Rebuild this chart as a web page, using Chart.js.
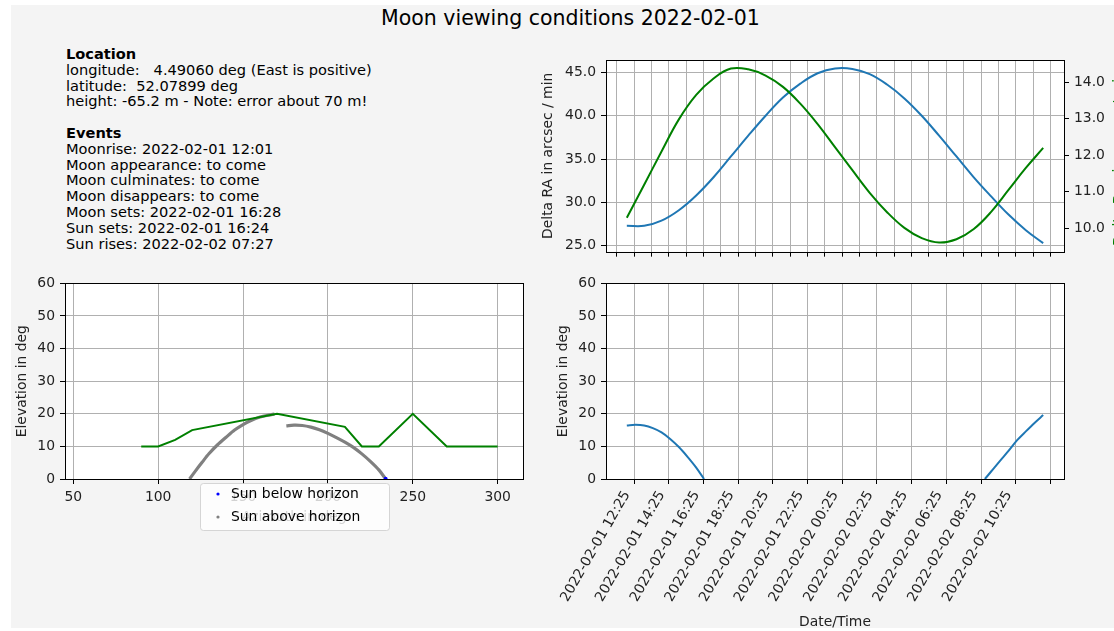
<!DOCTYPE html>
<html>
<head>
<meta charset="utf-8">
<script src="https://cdn.jsdelivr.net/npm/chart.js@4/dist/chart.umd.min.js"></script>
<style>
  html, body { margin: 0; padding: 0; background: #fff; overflow: hidden; width: 1114px; height: 631px; }
  #fig { position: absolute; left: 11px; top: 5px; width: 1103px; height: 623px; background: #f4f4f4; }
  canvas { position: absolute; }
  #title { position: absolute; left: 0; top: 6px; width: 1141px; text-align: center;
           font: 20.5px/24px "DejaVu Sans", sans-serif; color: #000; }
  #info { position: absolute; left: 66px; top: 46px; font: 14.6px/15.8px "DejaVu Sans", sans-serif;
          white-space: pre; color: #000; }
  #rightLabel { position: absolute; left: 1030px; top: 150px; width: 176px; height: 16px;
                font: 14px/16px "DejaVu Sans", sans-serif; color: green; text-align: center;
                white-space: nowrap; transform: rotate(-90deg); }
</style>
</head>
<body>
<div id="fig"></div>
<div id="title">Moon viewing conditions 2022-02-01</div>
<div id="info"><b>Location</b>
longitude:   4.49060 deg (East is positive)
latitude:  52.07899 deg
height: -65.2 m - Note: error about 70 m!

<b>Events</b>
Moonrise: 2022-02-01 12:01
Moon appearance: to come
Moon culminates: to come
Moon disappears: to come
Moon sets: 2022-02-01 16:28
Sun sets: 2022-02-01 16:24
Sun rises: 2022-02-02 07:27</div>
<canvas id="rates" width="600" height="225" style="left:530px;top:40px"></canvas>
<canvas id="horizon" width="529" height="270" style="left:11px;top:270px"></canvas>
<canvas id="elevation" width="600" height="361" style="left:530px;top:270px"></canvas>
<div id="rightLabel">Delta Dec in arcsec / min</div>
<script>
// time axis: hours since 2022-02-01 00:00
const hours = [12, 13, 14, 15, 16, 17, 18, 19, 20, 21, 22, 23, 24,
               25, 26, 27, 28, 29, 30, 31, 32, 33, 34, 35, 36];
const deltaRA = [27.3, 27.3, 27.9, 29.1, 30.8, 32.9, 35.3, 37.7, 40.0, 42.1, 43.7, 44.9, 45.45,
                 45.4, 44.8, 43.6, 42.0, 40.0, 37.7, 35.3, 32.9, 30.7, 28.6, 26.8, 25.3];
const deltaDec = [10.29, 11.19, 12.10, 12.98, 13.65, 14.10, 14.37, 14.35, 14.18, 13.87, 13.41, 12.85, 12.22,
                  11.59, 10.97, 10.44, 10.01, 9.73, 9.61, 9.70, 9.98, 10.45, 11.05, 11.65, 12.2];

const moonTime = [12, 12.5, 13, 13.5, 14, 14.5, 15, 15.5, 16, 16.45, 24,
                  32.64, 33, 33.5, 34, 34.5, 35, 35.5, 36];
const moonElev = [16.4, 16.6, 16.4, 15.6, 14.3, 12.3, 9.8, 6.8, 3.5, 0, null,
                  0, 2.3, 5.5, 8.6, 11.9, 14.6, 17.2, 19.6];

const timeLabels = ['2022-02-01 12:25', '2022-02-01 14:25', '2022-02-01 16:25', '2022-02-01 18:25',
                    '2022-02-01 20:25', '2022-02-01 22:25', '2022-02-02 00:25', '2022-02-02 02:25',
                    '2022-02-02 04:25', '2022-02-02 06:25', '2022-02-02 08:25', '2022-02-02 10:25'];

// azimuth / elevation panel
const horizonAz = [90, 100, 110, 120, 170, 210, 220, 230, 250, 270, 300];
const horizonEl = [10, 10, 12, 15, 20, 16, 10, 10, 20, 10, 10];
const sunUpAz = [118.5, 122, 126, 130, 135, 140, 145, 150, 155, 160, 165, 168.5, null,
                 175.5, 180, 185, 190, 195, 200, 205, 210, 215, 220, 225, 230, 233.5];
const sunUpEl = [0, 2.5, 5.2, 7.8, 10.5, 12.8, 15, 16.7, 18, 19, 19.6, 19.9, null,
                 16.3, 16.5, 16.4, 15.9, 15.1, 14.0, 12.7, 11.3, 9.7, 7.7, 5.4, 2.8, 0.4];
const sunDownAz = [234];
const sunDownEl = [0.1];

const azTicks = [50, 100, 150, 200, 250, 300];
const elevTicks = [0, 10, 20, 30, 40, 50, 60];
const raTicks = [25, 30, 35, 40, 45];
const decTicks = [10, 11, 12, 13, 14];

function toHours(label) {
  const day = parseInt(label.slice(8, 10), 10) - 1;
  const hh = parseInt(label.slice(11, 13), 10);
  const mm = parseInt(label.slice(14, 16), 10);
  return day * 24 + hh + mm / 60;
}
const firstTick = toHours(timeLabels[0]);
const labelTicks = [];
for (let i = 0; i <= timeLabels.length; i++) labelTicks.push(firstTick + 2 * i);
const hourTicks = [];
for (let i = -1; i <= 24; i++) hourTicks.push(firstTick + i);

const pts = (xs, ys) => xs.map((x, i) => ({ x: x === null ? 24 : x, y: ys[i] }));
const fixedTicks = values => scale => { scale.ticks = values.map(v => ({ value: v })); };

Chart.defaults.font.family = '"DejaVu Sans", sans-serif';
Chart.defaults.font.size = 13.9;
Chart.defaults.color = '#222';
Chart.defaults.animation = false;
Chart.defaults.responsive = false;
Chart.defaults.devicePixelRatio = 1;
Chart.defaults.plugins.legend.display = false;
Chart.defaults.plugins.tooltip.enabled = false;

const GRID = '#b0b0b0';

const frameBox = {
  id: 'frameBox',
  beforeDraw(chart) {
    const { ctx, chartArea: a } = chart;
    ctx.save();
    ctx.fillStyle = '#fff';
    ctx.fillRect(a.left, a.top, a.right - a.left, a.bottom - a.top);
    ctx.restore();
  },
  afterDatasetsDraw(chart) {
    const { ctx, chartArea: a } = chart;
    ctx.save();
    ctx.strokeStyle = '#000';
    ctx.lineWidth = 1;
    ctx.strokeRect(Math.round(a.left) + 0.5, Math.round(a.top) + 0.5,
                   Math.round(a.right - a.left), Math.round(a.bottom - a.top));
    ctx.restore();
  }
};

function gridOpts(onArea) {
  return { color: GRID, lineWidth: 1, tickColor: '#000', tickLength: 5, tickWidth: 1,
           drawOnChartArea: onArea !== false };
}

// top right: rates
new Chart(document.getElementById('rates'), {
  type: 'line',
  data: {
    datasets: [
      { data: pts(hours, deltaDec), yAxisID: 'y2', borderColor: 'green', borderWidth: 2,
        pointRadius: 0, tension: 0.4 },
      { data: pts(hours, deltaRA), yAxisID: 'y', borderColor: '#1f77b4', borderWidth: 2,
        pointRadius: 0, tension: 0.4 }
    ]
  },
  options: {
    layout: { padding: { left: 0, right: 0, top: 20, bottom: 0 }, autoPadding: false },
    scales: {
      x: {
        type: 'linear', min: 10.8, max: 37.2,
        afterBuildTicks: fixedTicks(hourTicks),
        ticks: { display: false, autoSkip: false },
        grid: gridOpts(), border: { display: false },
        afterFit: s => { s.height = 9; }
      },
      y: {
        position: 'left', min: 24.32, max: 46.43,
        afterBuildTicks: fixedTicks(raTicks),
        ticks: { padding: 5, callback: v => v.toFixed(1) },
        grid: gridOpts(), border: { display: false },
        title: { display: true, text: 'Delta RA in arcsec / min', padding: { top: 10.2, bottom: 0 } },
        afterFit: s => { s.width = 76; }
      },
      y2: {
        position: 'right', min: 9.36, max: 14.605,
        afterBuildTicks: fixedTicks(decTicks),
        ticks: { padding: 5, callback: v => v.toFixed(1) },
        grid: gridOpts(false), border: { display: false },
        afterFit: s => { s.width = 66; }
      }
    }
  },
  plugins: [frameBox]
});

// bottom left: horizon profile and track
const legendBox = {
  id: 'legendBox',
  afterDraw(chart) {
    const { ctx } = chart;
    const x = 189, y = 213, w = 189, h = 47, r = 3;
    ctx.save();
    ctx.beginPath();
    ctx.roundRect(x + 0.5, y + 0.5, w, h, r);
    ctx.fillStyle = 'rgba(255,255,255,0.8)';
    ctx.fill();
    ctx.strokeStyle = 'rgba(204,204,204,0.8)';
    ctx.lineWidth = 1;
    ctx.stroke();
    const items = [
      { text: 'Sun below horizon', color: 'blue', cy: 224 },
      { text: 'Sun above horizon', color: 'gray', cy: 247 }
    ];
    ctx.font = '13.9px "DejaVu Sans", sans-serif';
    ctx.textBaseline = 'middle';
    ctx.textAlign = 'left';
    items.forEach(it => {
      ctx.beginPath();
      ctx.fillStyle = it.color;
      ctx.arc(207, it.cy, 1.6, 0, Math.PI * 2);
      ctx.fill();
      ctx.fillStyle = '#000';
      ctx.fillText(it.text, 220, it.cy);
    });
    ctx.restore();
  }
};

new Chart(document.getElementById('horizon'), {
  type: 'line',
  data: {
    datasets: [
      { data: pts(sunDownAz, sunDownEl), borderColor: 'blue', backgroundColor: 'blue',
        showLine: false, pointRadius: 2, pointBorderWidth: 0, order: 0 },
      { data: pts(horizonAz, horizonEl), borderColor: 'green', borderWidth: 2,
        pointRadius: 0, tension: 0, order: 1 },
      { data: pts(sunUpAz, sunUpEl), borderColor: 'gray', borderWidth: 3.2,
        pointRadius: 0, tension: 0.3, spanGaps: false, order: 2 }
    ]
  },
  options: {
    layout: { padding: { left: 0, right: 16.7, top: 12.7, bottom: 0 }, autoPadding: false },
    scales: {
      x: {
        type: 'linear', min: 45.1, max: 315.1,
        afterBuildTicks: fixedTicks(azTicks),
        ticks: { padding: 5, autoSkip: false, maxRotation: 0 },
        grid: gridOpts(), border: { display: false },
        title: { display: true, text: 'Azimuth in deg', padding: { top: 0, bottom: 14.7 } },
        afterFit: s => { s.height = 61; }
      },
      y: {
        min: 0, max: 60,
        afterBuildTicks: fixedTicks(elevTicks),
        ticks: { padding: 5 },
        grid: gridOpts(), border: { display: false },
        title: { display: true, text: 'Elevation in deg', padding: { top: 2.7, bottom: 0 } },
        afterFit: s => { s.width = 54; }
      }
    }
  },
  plugins: [frameBox, legendBox]
});

// bottom right: elevation over time
new Chart(document.getElementById('elevation'), {
  type: 'line',
  data: {
    datasets: [
      { data: pts(moonTime, moonElev), borderColor: '#1f77b4', borderWidth: 2,
        pointRadius: 0, cubicInterpolationMode: 'monotone', spanGaps: false }
    ]
  },
  options: {
    layout: { padding: { left: 0, right: 66, top: 12.7, bottom: 0 }, autoPadding: false },
    scales: {
      x: {
        type: 'linear', min: 10.8, max: 37.2,
        afterBuildTicks: fixedTicks(labelTicks),
        ticks: { padding: 4, autoSkip: false, minRotation: 60, maxRotation: 60, labelOffset: -7,
                 callback: (v, i) => timeLabels[i] || '' },
        grid: gridOpts(), border: { display: false },
        title: { display: true, text: 'Date/Time', padding: { top: 0, bottom: 0.7 } },
        afterFit: s => { s.height = 152; }
      },
      y: {
        min: 0, max: 60,
        afterBuildTicks: fixedTicks(elevTicks),
        ticks: { padding: 5 },
        grid: gridOpts(), border: { display: false },
        title: { display: true, text: 'Elevation in deg', padding: { top: 24.7, bottom: 0 } },
        afterFit: s => { s.width = 76; }
      }
    }
  },
  plugins: [frameBox]
});
</script>
</body>
</html>
